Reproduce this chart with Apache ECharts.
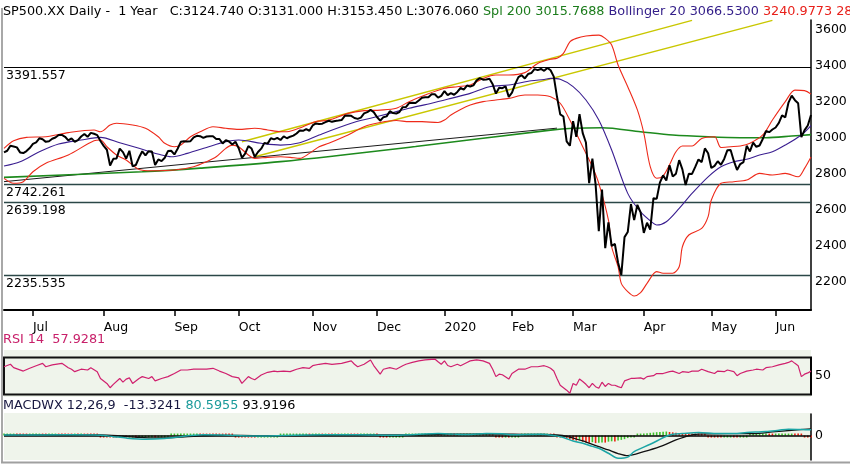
<!DOCTYPE html>
<html><head><meta charset="utf-8">
<script src="https://cdn.jsdelivr.net/npm/echarts@6/dist/echarts.min.js"></script>
<style>html,body{margin:0;padding:0;background:#fff}#c{width:850px;height:465px}</style>
</head><body><div id="c"></div>
<script>
// ---- trading days (categories) ----
const tradingDays = [
 ['2019-06',[18,19,20,21,24,25,26,27,28]],
 ['2019-07',[1,2,3,5,8,9,10,11,12,15,16,17,18,19,22,23,24,25,26,29,30,31]],
 ['2019-08',[1,2,5,6,7,8,9,12,13,14,15,16,19,20,21,22,23,26,27,28,29,30]],
 ['2019-09',[3,4,5,6,9,10,11,12,13,16,17,18,19,20,23,24,25,26,27,30]],
 ['2019-10',[1,2,3,4,7,8,9,10,11,14,15,16,17,18,21,22,23,24,25,28,29,30,31]],
 ['2019-11',[1,4,5,6,7,8,11,12,13,14,15,18,19,20,21,22,25,26,27,29]],
 ['2019-12',[2,3,4,5,6,9,10,11,12,13,16,17,18,19,20,23,24,26,27,30,31]],
 ['2020-01',[2,3,6,7,8,9,10,13,14,15,16,17,21,22,23,24,27,28,29,30,31]],
 ['2020-02',[3,4,5,6,7,10,11,12,13,14,18,19,20,21,24,25,26,27,28]],
 ['2020-03',[2,3,4,5,6,9,10,11,12,13,16,17,18,19,20,23,24,25,26,27,30,31]],
 ['2020-04',[1,2,3,6,7,8,9,13,14,15,16,17,20,21,22,23,24,27,28,29,30]],
 ['2020-05',[1,4,5,6,7,8,11,12,13,14,15,18,19,20,21,22,26,27,28,29]],
 ['2020-06',[1,2,3,4,5,8,9,10,11,12,15,16]]
];
const monthLabels = ['', 'Jul','Aug','Sep','Oct','Nov','Dec','2020','Feb','Mar','Apr','May','Jun'];

// ---- daily closes ----
const closes = [
 2917.75,2926.46,2954.18,2950.46,2945.35,2917.38,2913.78,2924.92,2941.76,
 2964.33,2973.01,2995.82,2990.41,2975.95,2979.63,2993.07,2999.91,3013.77,3014.30,3004.04,2984.42,2995.11,2976.61,2985.03,3005.47,3019.56,3003.67,3025.86,3020.97,3013.18,2980.38,
 2953.56,2932.05,2844.74,2881.77,2883.98,2938.09,2918.65,2882.70,2926.32,2840.60,2847.60,2888.68,2923.65,2900.51,2924.43,2922.95,2847.11,2878.38,2869.16,2887.94,2924.58,2926.46,
 2906.27,2937.78,2976.00,2978.71,2978.43,2979.39,3000.93,3009.57,3007.39,2997.96,3005.70,3006.73,3006.79,2992.07,2991.78,2966.60,2984.87,2977.62,2961.79,2976.74,
 2940.25,2887.61,2910.63,2952.01,2938.79,2893.06,2919.40,2938.13,2970.27,2966.15,2995.68,2989.69,2997.95,2986.20,3006.72,2995.99,3004.52,3010.29,3022.55,3039.42,3036.89,3046.77,3037.56,
 3066.91,3078.27,3074.62,3076.78,3085.18,3093.08,3087.01,3091.84,3094.04,3096.63,3120.46,3122.03,3120.18,3108.46,3103.54,3110.29,3133.64,3140.52,3153.63,3140.98,
 3113.87,3093.20,3112.76,3117.43,3145.91,3135.96,3132.52,3141.63,3168.57,3168.80,3191.45,3192.52,3191.14,3205.37,3221.22,3224.01,3223.38,3239.91,3240.02,3221.29,3230.78,
 3257.85,3234.85,3246.28,3237.18,3253.05,3274.70,3265.35,3288.13,3283.15,3289.29,3316.81,3329.62,3320.79,3321.75,3325.54,3295.47,3243.63,3276.24,3273.40,3283.66,3225.52,
 3248.92,3297.59,3334.69,3345.78,3327.71,3352.09,3357.75,3379.45,3373.94,3380.16,3370.29,3386.15,3373.23,3337.75,3225.89,3128.21,3116.39,2978.76,2954.22,
 3090.23,3003.37,3130.12,3023.94,2972.37,2746.56,2882.23,2741.38,2480.64,2711.02,2386.13,2529.19,2398.10,2409.39,2304.92,2237.40,2447.33,2475.56,2630.07,2541.47,2626.65,2584.59,
 2470.50,2526.90,2488.65,2663.68,2659.41,2749.98,2789.82,2761.63,2846.06,2783.36,2799.55,2874.56,2823.16,2736.56,2799.31,2797.80,2836.74,2878.48,2863.39,2939.51,2912.43,
 2830.71,2842.74,2868.44,2848.42,2881.19,2929.80,2930.32,2870.12,2820.00,2852.50,2863.70,2953.91,2922.94,2971.61,2948.51,2955.45,2991.77,3036.13,3029.73,3044.31,
 3055.73,3080.82,3122.87,3112.35,3193.93,3232.39,3207.18,3190.14,3002.10,3041.31,3066.59,3124.74
];

// ---- indicator lines: [dayIndex, value] ----
const bbMiddle = [[0,2842],[5,2866],[11,2921],[17,2964],[24,2986],[30,3001],[36,2971],[42,2940],[49,2903],[52,2893],[57,2912],[63,2945],[69,2977],[73,2986],[80,2968],[86,2958],[92,2971],[98,3014],[108,3079],[114,3107],[120,3134],[126,3162],[133,3190],[139,3217],[145,3245],[151,3282],[157,3291],[164,3315],[168,3322],[170,3328],[173,3323],[177,3282],[181,3208],[185,3097],[189,2931],[194,2690],[198,2588],[202,2524],[203,2515],[206,2533],[210,2607],[214,2690],[219,2782],[223,2838],[227,2866],[231,2879],[235,2903],[239,2921],[243,2958],[248,3014],[251,3066.53]];
const bbUpper = [[0,2940],[3,2982],[7,3001],[13,3004],[20,3027],[28,3042],[30,3032],[33,3069],[35,3079],[40,3069],[44,3051],[48,3004],[50,2968],[53,2949],[55,2958],[58,3004],[61,3032],[65,3060],[69,3051],[73,3045],[78,3051],[82,3042],[86,3032],[88,3032],[93,3060],[97,3088],[101,3097],[107,3134],[112,3149],[117,3152],[122,3162],[126,3199],[131,3236],[137,3273],[141,3282],[145,3291],[149,3328],[153,3347],[157,3347],[162,3360],[166,3411],[170,3434],[172,3440],[174,3467],[176,3531],[178,3550],[181,3563],[185,3568],[187,3550],[189,3513],[191,3402],[194,3282],[197,3153],[199,3024],[201,2838],[203,2774],[205,2787],[207,2849],[209,2921],[211,2953],[214,2953],[217,2995],[221,3004],[223,2945],[226,2949],[229,2953],[232,2968],[236,3014],[239,3097],[243,3199],[246,3263],[249,3260],[251,3240.98]];
const bbLower = [[0,2773],[3,2746],[6,2755],[9,2810],[13,2857],[20,2903],[28,2982],[30,2986],[32,2949],[35,2903],[38,2875],[42,2823],[46,2816],[53,2820],[59,2838],[63,2866],[66,2893],[69,2940],[71,2958],[73,2949],[76,2903],[78,2884],[82,2890],[86,2893],[89,2890],[92,2884],[95,2912],[98,2949],[101,2968],[107,3014],[112,3060],[117,3083],[122,3094],[126,3088],[130,3088],[135,3083],[137,3097],[139,3125],[142,3156],[145,3180],[149,3199],[153,3208],[157,3217],[162,3236],[166,3236],[170,3226],[173,3190],[176,3097],[179,2986],[181,2912],[183,2838],[185,2746],[188,2542],[189,2394],[191,2283],[192,2191],[194,2145],[196,2121],[198,2139],[200,2191],[203,2256],[205,2247],[208,2247],[210,2283],[211,2394],[213,2459],[217,2496],[219,2561],[220,2653],[223,2746],[227,2755],[231,2764],[235,2801],[239,2792],[243,2801],[247,2782],[249,2829],[251,2892.08]];
const sma200 = [[0,2779],[43,2810],[61,2830],[86,2866],[128,2950],[170,3041],[177,3051],[186,3054],[198,3032],[208,3014],[219,3004],[229,2999],[237,2999],[245,3008],[251,3015.77]];
const trendUpper = [[74,2977],[214,3650]];
const trendLower = [[78,2893],[239,3650]];
const trendBase = [[0,2755],[172,3052]];
const levels = [3391.557, 2742.261, 2639.198, 2235.535];
const priceTicks = [2200,2400,2600,2800,3000,3200,3400,3600];

const rsi = [[0,65],[2,69],[3,63.5],[6,58],[8,62.5],[10,66.7],[12,70.5],[13,65],[15,68],[18,70.5],[20,63.5],[21,61],[22,57],[24,61],[26,59.7],[27,63.5],[29,57],[30,46],[32,38],[33,31],[34,36.5],[36,46],[37,40],[38,45],[39,47],[40,38],[42,46],[43,49],[45,46],[46,49],[47,42],[49,46],[51,49],[53,54],[55,59.7],[57,59.7],[59,61],[61,61],[63,61],[65,62.5],[67,58],[69,54],[71,49],[73,47],[74,38],[76,49],[77,46],[78,44],[80,51.6],[82,56],[84,58],[85,57],[87,58],[89,57],[91,61],[93,63.5],[95,62.5],[96,66.7],[98,69],[100,70.5],[102,69],[105,70.5],[108,74.5],[109,69],[110,65],[112,69],[114,76],[115,67],[117,53],[118,61],[120,63.5],[122,61],[124,66.7],[125,69],[127,72],[129,74.5],[131,76],[134,77.5],[135,73],[136,69],[137,74.5],[138,67],[139,65],[141,69],[142,66.7],[144,72],[145,74.5],[147,76],[149,74.5],[151,70.5],[152,61],[153,49],[154,53],[155,52],[157,45],[158,54],[160,61],[162,61],[164,65],[166,65],[168,66.7],[169,65],[170,62.5],[171,58],[172,46],[173,35],[174,31],[175,27],[176,22],[177,38],[178,35],[179,45],[180,41],[181,36.5],[182,31],[183,38],[184,32.7],[185,30],[186,40],[187,33],[188,38],[189,35],[190,35],[191,32.7],[192,31],[193,42],[195,46],[196,46],[198,47],[199,45],[200,49],[202,50.5],[203,54],[205,54],[207,57],[208,58],[210,54],[211,57],[213,56],[214,58],[216,58],[217,61],[219,57],[221,54],[222,58],[224,57],[225,59.7],[227,57],[228,50.5],[229,54],[231,58],[233,59.7],[234,61],[236,59.7],[237,63.5],[239,65],[241,68],[243,70.5],[244,72],[245,74.5],[246,70.5],[247,66.7],[248,49],[249,53],[250,55],[251,57.93]];

const macd = [[0,8],[20,10],[30,5],[34,-15],[38,-35],[44,-50],[50,-40],[55,-15],[58,0],[62,10],[70,5],[76,-5],[82,-5],[90,5],[100,10],[110,12],[120,5],[128,15],[135,28],[140,20],[145,15],[150,28],[155,25],[158,10],[162,15],[167,18],[171,0],[174,-28],[177,-75],[180,-107],[183,-150],[185,-177],[188,-246],[191,-316],[194,-300],[196,-224],[201,-121],[206,-10],[208,18],[211,28],[216,42],[222,28],[227,28],[231,42],[237,56],[241,74],[244,88],[248,84],[251,80.6]];
const signal = [[0,6],[20,9],[30,8],[36,-5],[42,-25],[48,-32],[54,-25],[60,-8],[66,3],[74,2],[82,-3],[90,0],[100,7],[110,10],[120,8],[128,10],[135,18],[142,20],[150,22],[156,20],[162,16],[168,16],[172,8],[175,-10],[180,-75],[185,-154],[188,-200],[191,-250],[194,-280],[199,-224],[204,-154],[209,-61],[213,0],[216,20],[225,28],[233,28],[239,50],[245,74],[251,93.92]];
const hist = [
 8,10,12,13,12,11,10,9,10,
 11,12,13,12,11,11,12,13,12,10,9,8,7,8,7,8,7,6,5,4,3,-2,
 -6,-9,-14,-16,-17,-16,-15,-16,-15,-13,-14,-12,-10,-9,-8,-7,-8,-7,-5,-4,-2,0,
 2,4,6,8,9,10,11,11,10,9,8,7,6,5,4,3,2,1,0,-1,
 -4,-8,-10,-11,-12,-13,-12,-11,-9,-7,-5,-3,-1,1,2,4,5,6,7,8,8,8,7,
 8,9,9,8,8,7,6,6,5,5,6,6,5,4,3,3,3,3,4,4,
 2,-1,-3,-4,-3,-3,-3,-2,-1,0,1,2,3,4,5,5,5,5,5,4,3,
 4,3,3,2,2,3,3,4,4,5,5,5,4,4,3,0,-4,-5,-6,-6,-10,
 -10,-8,-4,0,2,3,5,6,7,7,7,7,6,3,-10,-15,-25,-35,-50,
 -60,-70,-65,-85,-95,-100,-92,-105,-100,-95,-98,-85,-80,-82,-70,-60,-50,-35,-20,-5,8,18,
 26,32,38,42,47,50,54,56,50,45,40,32,26,20,15,10,8,5,3,1,-1,
 -3,-5,-6,-7,-6,-5,-4,-5,-6,-6,-4,-2,0,2,3,4,5,5,4,3,
 4,5,7,9,11,12,10,8,2,-6,-12,-13.32
];

// ---- build categories ----
const cats = [];
const labelAt = {};
tradingDays.forEach(function(m, mi){
  if (monthLabels[mi]) labelAt[cats.length] = monthLabels[mi];
  m[1].forEach(function(d){ cats.push(m[0] + '-' + (d < 10 ? '0' + d : d)); });
});

const FONT = 'DejaVu Sans';
const L = 4, R = 39;
const chart = echarts.init(document.getElementById('c'), null, {renderer:'canvas'});
const GREEN = '#3fc22a', RED = '#ee2211';
const plain = function(v){ return String(v); };

chart.setOption({
  animation: false,
  backgroundColor: '#fff',
  textStyle: {fontFamily: FONT},
  grid: [
    {left: L, right: R, top: 20, height: 290},
    {left: L, right: R, top: 357.5, height: 37, show: true, borderColor: '#111', borderWidth: 2, backgroundColor: 'transparent'},
    {left: L, right: R, top: 414, height: 46}
  ],
  xAxis: [
    {type: 'category', gridIndex: 0, data: cats, boundaryGap: false,
     axisLine: {lineStyle: {color: '#000', width: 2}},
     axisTick: {interval: function(i){ return labelAt[i] !== undefined; }, length: 6, lineStyle: {color: '#000', width: 1.5}},
     axisLabel: {interval: function(i){ return labelAt[i] !== undefined; }, formatter: function(v, i){ return labelAt[i] || ''; },
       align: 'left', color: '#000', fontSize: 12.5, fontFamily: FONT, margin: 11},
     splitLine: {show: false}},
    {type: 'category', gridIndex: 1, data: cats, boundaryGap: false, show: false},
    {type: 'category', gridIndex: 2, data: cats, boundaryGap: false, show: false}
  ],
  yAxis: [
    {type: 'value', gridIndex: 0, position: 'right', min: 2043, max: 3652,
     axisLine: {show: true, lineStyle: {color: '#000', width: 1.5}}, axisTick: {show: false}, splitLine: {show: false},
     axisLabel: {customValues: priceTicks, formatter: plain, color: '#000', fontSize: 12.5, fontFamily: FONT, margin: 4}},
    {type: 'value', gridIndex: 1, position: 'right', min: 20, max: 80,
     axisLine: {show: true, lineStyle: {color: '#000', width: 1.5}}, axisTick: {show: false}, splitLine: {show: false},
     axisLabel: {customValues: [50], formatter: plain, color: '#000', fontSize: 12.5, fontFamily: FONT, margin: 4}},
    {type: 'value', gridIndex: 2, position: 'right', min: -340, max: 300,
     axisLine: {show: true, lineStyle: {color: '#000', width: 1.5}}, axisTick: {show: false}, splitLine: {show: false},
     axisLabel: {customValues: [0], formatter: plain, color: '#000', fontSize: 12.5, fontFamily: FONT, margin: 4}}
  ],
  series: [
    {type: 'line', name: 'trendUpper', data: trendUpper, showSymbol: false, lineStyle: {color: '#c9c700', width: 1.5}, z: 3},
    {type: 'line', name: 'trendLower', data: trendLower, showSymbol: false, lineStyle: {color: '#c9c700', width: 1.5}, z: 3},
    {type: 'line', name: 'trendBase', data: trendBase, showSymbol: false, lineStyle: {color: '#1a1a1a', width: 1}, z: 3},
    {type: 'line', name: 'Spl 200', data: sma200, showSymbol: false, smooth: 0.3, lineStyle: {color: '#1d8a1d', width: 1.6}, z: 4},
    {type: 'line', name: 'BB upper', data: bbUpper, showSymbol: false, smooth: 0.3, lineStyle: {color: '#ee2a1a', width: 1.1}, z: 5},
    {type: 'line', name: 'BB lower', data: bbLower, showSymbol: false, smooth: 0.3, lineStyle: {color: '#ee2a1a', width: 1.1}, z: 5},
    {type: 'line', name: 'BB middle', data: bbMiddle, showSymbol: false, smooth: 0.3, lineStyle: {color: '#3a1e90', width: 1.1}, z: 5},
    {type: 'line', name: 'Close', data: closes, showSymbol: false, lineStyle: {color: '#000', width: 2}, z: 10,
     markLine: {symbol: 'none', silent: true, animation: false,
       lineStyle: {color: '#2b4747', width: 1.3, type: 'solid'},
       label: {position: 'insideStartBottom', formatter: function(p){ return levels[p.dataIndex].toFixed(3); },
         color: '#000', fontSize: 12.5, fontFamily: FONT, distance: 2},
       data: levels.map(function(v, i){ return i === 0 ? {yAxis: v, lineStyle: {color: '#000', width: 1.2}} : {yAxis: v}; })}},
    {type: 'line', name: 'RSI', xAxisIndex: 1, yAxisIndex: 1, data: rsi, showSymbol: false, lineStyle: {color: '#d0206e', width: 1.2}, z: 5},
    {type: 'bar', name: 'Hist', xAxisIndex: 2, yAxisIndex: 2, data: hist, barWidth: 1.6, barMinHeight: 2, z: 3,
     itemStyle: {color: function(p){ const i = p.dataIndex; const prev = i > 0 ? hist[i-1] : hist[i]; return hist[i] >= prev ? GREEN : RED; }},
     markLine: {symbol: 'none', silent: true, animation: false, label: {show: false},
       lineStyle: {color: '#000', width: 1.6, type: 'solid'}, data: [{yAxis: 0}]}},
    {type: 'line', name: 'Signal', xAxisIndex: 2, yAxisIndex: 2, data: signal, showSymbol: false, smooth: 0.3, lineStyle: {color: '#111', width: 1.3}, z: 6},
    {type: 'line', name: 'MACD', xAxisIndex: 2, yAxisIndex: 2, data: macd, showSymbol: false, smooth: 0.3, lineStyle: {color: '#1ca5a5', width: 1.5}, z: 7}
  ],
  graphic: [
    {type: 'rect', z: -10, silent: true, shape: {x: L, y: 350, width: 807, height: 47}, style: {fill: '#eff4eb'}},
    {type: 'rect', z: -10, silent: true, shape: {x: L, y: 413, width: 807, height: 47}, style: {fill: '#eff4eb'}},
    {type: 'line', z: 50, silent: true, shape: {x1: 2, y1: 8, x2: 2, y2: 463}, style: {stroke: '#a8a8a8', lineWidth: 2}},
    {type: 'line', z: 50, silent: true, shape: {x1: 1, y1: 462.5, x2: 850, y2: 462.5}, style: {stroke: '#a0a0a0', lineWidth: 2}},
    {type: 'text', z: 50, left: 3, top: 5, style: {
      text: '{k|SP500.XX Daily -  1 Year   C:3124.740 O:3131.000 H:3153.450 L:3076.060 }{g|Spl 200 3015.7688 }{b|Bollinger 20 3066.5300 }{r|3240.9773 2892.0827}',
      rich: {
        k: {fill: '#000', fontSize: 12.8, fontFamily: FONT},
        g: {fill: '#1c7c1c', fontSize: 12.8, fontFamily: FONT},
        b: {fill: '#35208a', fontSize: 12.8, fontFamily: FONT},
        r: {fill: '#e8201a', fontSize: 12.8, fontFamily: FONT}
      }}},
    {type: 'text', z: 50, left: 3, top: 333, style: {text: 'RSI 14  57.9281', fill: '#c8206a', fontSize: 12.8, fontFamily: FONT}},
    {type: 'text', z: 50, left: 3, top: 399, style: {
      text: '{n|MACDWX 12,26,9  -13.3241 }{t|80.5955 }{k|93.9196}',
      rich: {
        n: {fill: '#17173f', fontSize: 12.8, fontFamily: FONT},
        t: {fill: '#1a9a9a', fontSize: 12.8, fontFamily: FONT},
        k: {fill: '#000', fontSize: 12.8, fontFamily: FONT}
      }}}
  ]
});
</script>
</body></html>
